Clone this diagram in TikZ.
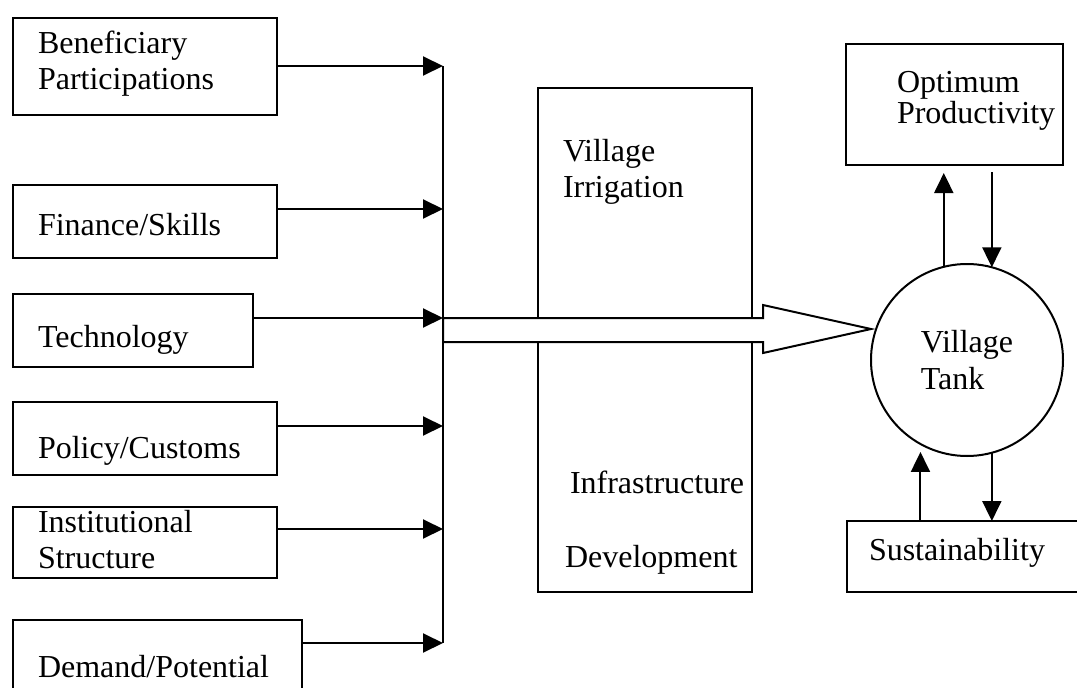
\documentclass[tikz,border=0pt]{standalone}
\usepackage{fontspec}
\setmainfont{Liberation Serif}
\usetikzlibrary{positioning,arrows.meta,calc}
\tikzset{
    factor/.style ={
        shape=rectangle,
        draw=black,
        line width=2pt,
        anchor=north west,
        outer sep=0pt,
        inner xsep=25pt,
        inner ysep=0pt,
        align=left,
        font=\fontsize{32pt}{36pt}\selectfont
    },
    tank/.style ={
        shape=circle,
        draw=black,
        line width=2pt,
        outer sep=0pt,
        inner sep=0pt,
        minimum size=192pt,
        align=left,
        font=\fontsize{32pt}{37pt}\selectfont
    },
    link/.style ={
        ->,
        line width=2pt
    }
}

\begin{document}
\begin{tikzpicture}[x=1pt,y=-1pt,>={Triangle[length=20pt,width=19pt]}]
    \useasboundingbox (0,0) rectangle (1077,688);
    \clip (0,0) rectangle (1077,688);
    \fill[white] (0,0) rectangle (1077,688);
    % inputs on the left
    \node[factor,text width=214pt,text height=35pt,text depth=62pt] (benef) at (13,18) {Beneficiary\\Participations};
    \node[factor,text width=214pt,text height=50pt,text depth=23pt,below=70pt of benef.south west,anchor=north west] (fin) {Finance/Skills};
    \node[factor,text width=190pt,text height=53pt,text depth=20pt,below=36pt of fin.south west,anchor=north west] (tech) {Technology};
    \node[factor,text width=214pt,text height=56pt,text depth=17pt,below=35pt of tech.south west,anchor=north west] (policy) {Policy/Customs};
    \node[factor,text width=214pt,text height=25pt,text depth=46pt,below=32pt of policy.south west,anchor=north west] (inst) {Institutional\\Structure};
    \node[factor,text width=239pt,text height=57pt,text depth=33pt,below=42pt of inst.south west,anchor=north west] (demand) {Demand/Potential};
    % middle and right
    \node[factor,text width=164pt,text height=73pt,text depth=431pt] (irrig) at (538,88)
        {Village\\Irrigation\\[260pt]\hspace*{7pt}\mbox{Infrastructure}\\[38pt]\hspace*{2pt}\mbox{Development}};
    \node[factor,inner xsep=51pt,text width=115pt,text height=48pt,text depth=73pt] (opt) at (846,44) {Optimum\\[-5pt]\mbox{Productivity}};
    \node[tank] (tank) at (967,360) {Village\\Tank};
    \node[factor,inner xsep=22pt,text width=204pt,text height=39pt,text depth=32pt] (sust) at (847,521) {Sustainability};

    % collecting line
    \coordinate (bus1) at (443,66);
    \coordinate (bus2) at (443,209);
    \coordinate (bus3) at (443,318);
    \coordinate (bus4) at (443,426);
    \coordinate (bus5) at (443,529);
    \coordinate (bus6) at (443,643);
    \draw[line width=2pt] (bus1) -- (bus6);
    \draw[link] (benef.east |- bus1) -- (bus1);
    \draw[link] (fin.east |- bus2) -- (bus2);
    \draw[link] (tech.east |- bus3) -- (bus3);
    \draw[link] (policy.east |- bus4) -- (bus4);
    \draw[link] (inst.east |- bus5) -- (bus5);
    \draw[link] (demand.east |- bus6) -- (bus6);

    % hollow arrow into the tank
    \draw[line width=2pt,fill=white] (bus3) -- ++(320,0) -- ++(0,-13) -- ([yshift=31pt]tank.west)
        -- ++(-108,24) -- ++(0,-11) -- ++(-320,0) -- cycle;

    \draw[link] (tank.104) -- ($(opt.south -| tank.104)+(0,8)$);
    \draw[link] ($(opt.south -| tank.75)+(0,7)$) -- (tank.75);
    \draw[link] (tank.-75) -- (sust.north -| tank.-75);
    \draw[link] (sust.north -| tank.-119) -- ($(tank.-119)+(0,8)$);
\end{tikzpicture}
\end{document}
